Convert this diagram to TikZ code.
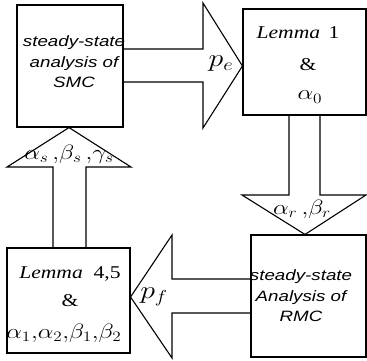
\documentclass[tikz,border=0pt]{standalone}
\usepackage{fontspec}
\usepackage{graphicx}
\setmainfont{Liberation Serif}[FakeStretch=1.2]
\setsansfont{Liberation Sans}[FakeStretch=1.25]
\newcommand\wm[1]{\scalebox{1.2}[1]{$#1$}}
\begin{document}
\begin{tikzpicture}[x=1pt,y=-1pt,
  blk/.style={draw,line width=1.1pt,line join=miter},
  boxn/.style={draw,line width=1.1pt,inner sep=0pt},
  sanstxt/.style={font=\sffamily\itshape\fontsize{15}{20.5}\selectfont,align=center,inner sep=0pt},
  sertxt/.style={font=\fontsize{18}{20}\selectfont,inner sep=0pt},
  lbl/.style={inner sep=0pt,font=\fontsize{21}{22}\selectfont}]
\useasboundingbox (0,0) rectangle (367,360);
% boxes
\node[boxn,minimum width=106pt,minimum height=122pt] (smc) at (70,66) {};
\node[boxn,minimum width=123pt,minimum height=106pt] (lem1) at (304.5,62) {};
\node[boxn,minimum width=115pt,minimum height=122pt] (rmc) at (308.5,296) {};
\node[boxn,minimum width=123pt,minimum height=105pt] (lem4) at (68.5,300.5) {};
% block arrows
\draw[blk] (smc.east |- 0,49) -- (203,49) -- (203,3) -- (lem1.west |- 0,66) -- (203,128) -- (203,82) -- (smc.east |- 0,82);
\draw[blk] (289,0 |- lem1.south) -- (289,195) -- (242,195) -- (305,0 |- rmc.north) -- (366,195) -- (320,195) -- (320,0 |- lem1.south);
\draw[blk] (rmc.west |- 0,279) -- (172,279) -- (172,235) -- (lem4.east |- 0,297) -- (172,358) -- (172,313) -- (rmc.west |- 0,313);
\draw[blk] (53,0 |- lem4.north) -- (53,167) -- (7,167) -- (69,0 |- smc.south) -- (131,167) -- (86,167) -- (86,0 |- lem4.north);
% texts
\node[sanstxt] (t1) at (74,62) {steady-state\\analysis of\\SMC};
\node[sanstxt] (t3) at (301,296) {steady-state\\Analysis of\\RMC};
\node[sertxt] (l1) at (298,33) {\textit{Lemma}\ \,1};
\node[sertxt] (a1) at (308,65) {\&};
\node[lbl] (a0) at (310,97) {\wm{\alpha_0}};
\node[sertxt] (l4) at (70,274) {\textit{Lemma}\ \ 4,5};
\node[sertxt] (a4) at (70,301) {\&};
\node[lbl] (al) at (64,333) {\wm{\alpha_1{,}\alpha_2{,}\beta_1{,}\beta_2}};
\node[inner sep=0pt,font=\fontsize{27}{28}\selectfont] (pe) at (221,64) {\wm{p_e}};
\node[inner sep=0pt,font=\fontsize{27}{28}\selectfont] (pf) at (154,297) {\wm{p_f}};
\node[lbl] (as) at (69,154) {\wm{\alpha_s\,{,}\beta_s\,{,}\gamma_s}};
\node[lbl] (ar) at (302,209) {\wm{\alpha_r\,{,}\beta_r}};
\end{tikzpicture}
\end{document}
